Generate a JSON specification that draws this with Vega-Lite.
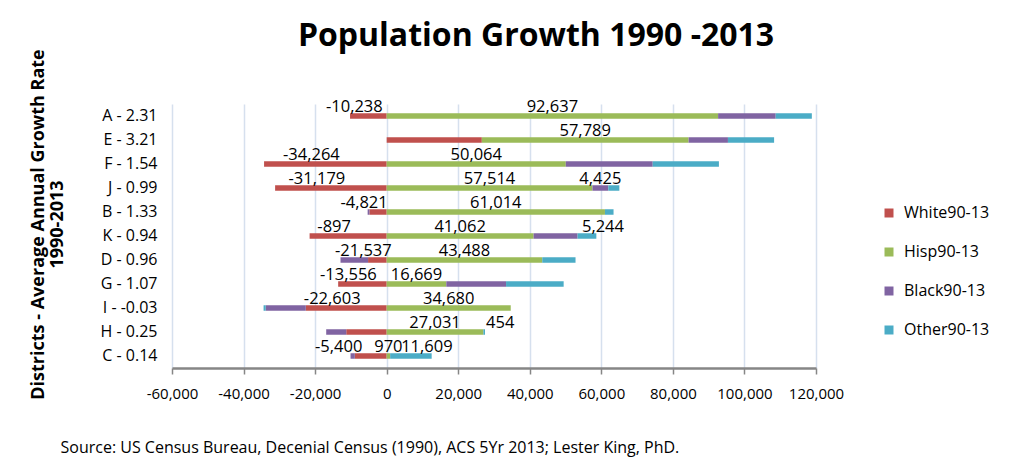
{
  "$schema": "https://vega.github.io/schema/vega-lite/v6.json",
  "width": 644,
  "height": 264,
  "autosize": {"type": "none"},
  "padding": {"left": 172, "top": 104, "right": 202, "bottom": 101},
  "background": "white",
  "title": {"text": "Population Growth 1990 -2013", "font": "Open Sans", "fontSize": 32, "fontWeight": "bold", "color": "#000000", "anchor": "middle", "frame": "group", "dx": 42, "baseline": "alphabetic", "offset": -29},
  "config": {"view": {"stroke": null}, "font": "Open Sans"},
  "data": {"values": [
    {"district": "A - 2.31", "series": "White90-13", "k": 0, "value": -10238, "label": "-10,238"},
    {"district": "A - 2.31", "series": "Hisp90-13", "k": 1, "value": 92637, "label": "92,637"},
    {"district": "A - 2.31", "series": "Black90-13", "k": 2, "value": 16100, "label": ""},
    {"district": "A - 2.31", "series": "Other90-13", "k": 3, "value": 10100, "label": ""},
    {"district": "E - 3.21", "series": "White90-13", "k": 0, "value": 26600, "label": ""},
    {"district": "E - 3.21", "series": "Hisp90-13", "k": 1, "value": 57789, "label": "57,789"},
    {"district": "E - 3.21", "series": "Black90-13", "k": 2, "value": 11000, "label": ""},
    {"district": "E - 3.21", "series": "Other90-13", "k": 3, "value": 12900, "label": ""},
    {"district": "F - 1.54", "series": "White90-13", "k": 0, "value": -34264, "label": "-34,264"},
    {"district": "F - 1.54", "series": "Hisp90-13", "k": 1, "value": 50064, "label": "50,064"},
    {"district": "F - 1.54", "series": "Black90-13", "k": 2, "value": 24300, "label": ""},
    {"district": "F - 1.54", "series": "Other90-13", "k": 3, "value": 18500, "label": ""},
    {"district": "J - 0.99", "series": "White90-13", "k": 0, "value": -31179, "label": "-31,179"},
    {"district": "J - 0.99", "series": "Hisp90-13", "k": 1, "value": 57514, "label": "57,514"},
    {"district": "J - 0.99", "series": "Black90-13", "k": 2, "value": 4425, "label": "4,425"},
    {"district": "J - 0.99", "series": "Other90-13", "k": 3, "value": 3100, "label": ""},
    {"district": "B - 1.33", "series": "White90-13", "k": 0, "value": -4821, "label": "-4,821"},
    {"district": "B - 1.33", "series": "Hisp90-13", "k": 1, "value": 61014, "label": "61,014"},
    {"district": "B - 1.33", "series": "Black90-13", "k": 2, "value": -500, "label": ""},
    {"district": "B - 1.33", "series": "Other90-13", "k": 3, "value": 2400, "label": ""},
    {"district": "K - 0.94", "series": "White90-13", "k": 0, "value": -21537, "label": "-897"},
    {"district": "K - 0.94", "series": "Hisp90-13", "k": 1, "value": 41062, "label": "41,062"},
    {"district": "K - 0.94", "series": "Black90-13", "k": 2, "value": 12300, "label": ""},
    {"district": "K - 0.94", "series": "Other90-13", "k": 3, "value": 5244, "label": "5,244"},
    {"district": "D - 0.96", "series": "White90-13", "k": 0, "value": -5200, "label": "-21,537"},
    {"district": "D - 0.96", "series": "Hisp90-13", "k": 1, "value": 43488, "label": "43,488"},
    {"district": "D - 0.96", "series": "Black90-13", "k": 2, "value": -7700, "label": ""},
    {"district": "D - 0.96", "series": "Other90-13", "k": 3, "value": 9300, "label": ""},
    {"district": "G - 1.07", "series": "White90-13", "k": 0, "value": -13556, "label": "-13,556"},
    {"district": "G - 1.07", "series": "Hisp90-13", "k": 1, "value": 16669, "label": "16,669"},
    {"district": "G - 1.07", "series": "Black90-13", "k": 2, "value": 16700, "label": ""},
    {"district": "G - 1.07", "series": "Other90-13", "k": 3, "value": 16100, "label": ""},
    {"district": "I - -0.03", "series": "White90-13", "k": 0, "value": -22603, "label": "-22,603"},
    {"district": "I - -0.03", "series": "Hisp90-13", "k": 1, "value": 34680, "label": "34,680"},
    {"district": "I - -0.03", "series": "Black90-13", "k": 2, "value": -11200, "label": ""},
    {"district": "I - -0.03", "series": "Other90-13", "k": 3, "value": -600, "label": ""},
    {"district": "H - 0.25", "series": "White90-13", "k": 0, "value": -11300, "label": ""},
    {"district": "H - 0.25", "series": "Hisp90-13", "k": 1, "value": 27031, "label": "27,031"},
    {"district": "H - 0.25", "series": "Black90-13", "k": 2, "value": -5600, "label": ""},
    {"district": "H - 0.25", "series": "Other90-13", "k": 3, "value": 454, "label": "454"},
    {"district": "C - 0.14", "series": "White90-13", "k": 0, "value": -8900, "label": ""},
    {"district": "C - 0.14", "series": "Hisp90-13", "k": 1, "value": 970, "label": "970"},
    {"district": "C - 0.14", "series": "Black90-13", "k": 2, "value": -1200, "label": "-5,400"},
    {"district": "C - 0.14", "series": "Other90-13", "k": 3, "value": 11609, "label": "11,609"}
  ]},
  "encoding": {
    "y": {
      "field": "district", "type": "nominal", "sort": null,
      "scale": {"paddingInner": 0.75, "paddingOuter": 0.375},
      "axis": {
        "title": ["Districts - Average Annual Growth Rate", "1990-2013"],
        "titleFont": "Open Sans", "titleFontSize": 18, "titleFontWeight": "bold", "titleColor": "#000000",
        "titleAngle": -90, "titleX": -129, "titleY": 120, "titleAlign": "center", "titleBaseline": "alphabetic", "titleLineHeight": 19,
        "domain": false, "ticks": false, "tickSize": 0, "labelPadding": 15,
        "labelFont": "Open Sans", "labelFontSize": 16, "labelColor": "#000000", "grid": false
      }
    }
  },
  "layer": [
    {
      "mark": {"type": "bar", "size": 5.5},
      "encoding": {
        "x": {
          "field": "value", "type": "quantitative", "stack": "zero",
          "scale": {"domain": [-60000, 120000], "nice": false, "zero": false},
          "axis": {
            "values": [-60000, -40000, -20000, 0, 20000, 40000, 60000, 80000, 100000, 120000],
            "labelExpr": "replace(format(datum.value, ','), '\u2212', '-')",
            "labelFont": "Open Sans", "labelFontSize": 15, "labelColor": "#000000", "labelPadding": 12,
            "labelFlush": false, "labelOverlap": false,
            "tickSize": 6, "tickColor": "#868686", "tickWidth": 1.5,
            "domainColor": "#868686", "domainWidth": 2.5,
            "grid": true, "gridColor": "#D6E0EE", "gridWidth": 1.5,
            "title": "Source:  US Census Bureau,  Decenial Census (1990), ACS 5Yr 2013; Lester King, PhD.",
            "titleFont": "Open Sans", "titleFontSize": 16, "titleFontWeight": "normal", "titleColor": "#000000",
            "titleAnchor": "start", "titleAlign": "left", "titleX": -112, "titleY": 84, "titleBaseline": "alphabetic"
          }
        },
        "color": {
          "field": "series", "type": "nominal",
          "scale": {"domain": ["White90-13", "Hisp90-13", "Black90-13", "Other90-13"], "range": ["#C0504D", "#9BBB59", "#8064A2", "#4BACC6"]},
          "legend": {
            "title": null, "orient": "none", "legendX": 709, "legendY": 101,
            "symbolType": "square", "symbolSize": 81, "symbolStrokeWidth": 0,
            "labelFont": "Open Sans", "labelFontSize": 16, "labelColor": "#000000",
            "rowPadding": 23, "labelOffset": 7, "padding": 0
          }
        },
        "order": {"field": "k", "type": "quantitative"}
      }
    },
    {
      "mark": {"type": "rule", "color": "#868686", "strokeWidth": 2},
      "encoding": {"x": {"datum": 0, "type": "quantitative"}}
    },
    {
      "mark": {"type": "text", "font": "Open Sans", "fontSize": 16.5, "color": "#000000", "baseline": "alphabetic", "dy": -4.5, "dx": -14},
      "encoding": {
        "x": {"field": "value", "type": "quantitative", "stack": "zero", "bandPosition": 0.5},
        "detail": {"field": "series"},
        "order": {"field": "k", "type": "quantitative"},
        "text": {"condition": {"test": "datum.value < 0", "field": "label"}, "value": ""}
      }
    },
    {
      "mark": {"type": "text", "font": "Open Sans", "fontSize": 16.5, "color": "#000000", "baseline": "alphabetic", "dy": -4.5},
      "encoding": {
        "x": {"field": "value", "type": "quantitative", "stack": "zero", "bandPosition": 0.5},
        "detail": {"field": "series"},
        "order": {"field": "k", "type": "quantitative"},
        "text": {"condition": {"test": "datum.value >= 0 && datum.k !== 3", "field": "label"}, "value": ""}
      }
    },
    {
      "mark": {"type": "text", "font": "Open Sans", "fontSize": 16.5, "color": "#000000", "baseline": "alphabetic", "dy": -4.5, "dx": 16},
      "encoding": {
        "x": {"field": "value", "type": "quantitative", "stack": "zero", "bandPosition": 0.5},
        "detail": {"field": "series"},
        "order": {"field": "k", "type": "quantitative"},
        "text": {"condition": {"test": "datum.value >= 0 && datum.k === 3", "field": "label"}, "value": ""}
      }
    }
  ]
}
